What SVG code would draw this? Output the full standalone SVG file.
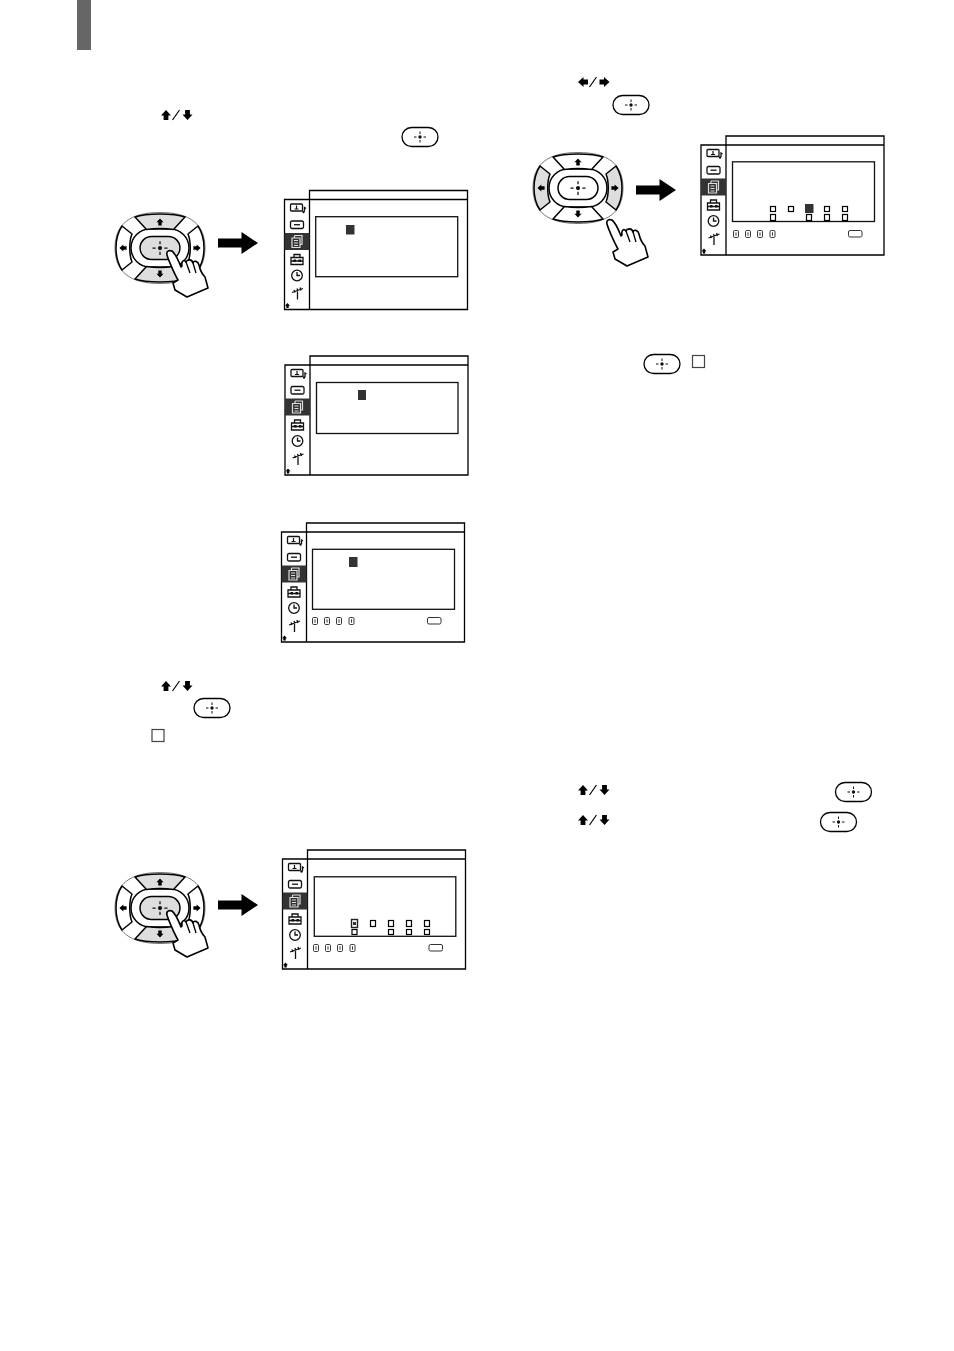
<svg xmlns="http://www.w3.org/2000/svg" width="954" height="1351" viewBox="0 0 954 1351">
<style>
.ln{fill:none;stroke:#000;stroke-width:1.3}
.box{fill:none;stroke:#111;stroke-width:1.3}
.ic{fill:none;stroke:#111;stroke-width:1.3}
.icw{fill:none;stroke:#ddd;stroke-width:1.2}
.k{fill:#fff;stroke:#222;stroke-width:.9}
.sq{fill:#fff;stroke:#000;stroke-width:1.2}
.blk{fill:#000}
.dark{fill:#333}
.gseg{fill:#dedede;stroke:#000;stroke-width:1.5;stroke-linejoin:round}
.wseg{fill:#fff;stroke:#000;stroke-width:1.5;stroke-linejoin:round}
.hand{fill:#fff;stroke:#000;stroke-width:1.6;stroke-linejoin:round}
</style>
<defs>
<g id="cross"><path d="M-6,0H-3.500M3.500,0H6M0,-5.500V-3M0,3V5.500" stroke="#111" stroke-width="1" fill="none"/><circle r="1.700" fill="#111"/></g>
<g id="btn"><rect x="-18" y="-9.500" width="36" height="19" rx="9.500" fill="#fff" stroke="#000" stroke-width="1.300"/><use href="#cross"/></g>
<path id="up" d="M0,-5L5,.5H2.400V5H-2.400V.5H-5Z"/>
<path id="right" d="M5,0L-.5,5V2.400H-5V-2.400H-.5V-5Z"/>
<path id="slash" d="M11.500,5L18.500,-5" stroke="#000" stroke-width="1.200" fill="none"/>
<g id="updown"><use href="#up" x="5"/><use href="#slash"/><use href="#up" transform="translate(26.500,0) scale(1,-1)"/></g>
<g id="leftright"><use href="#right" transform="translate(5,0) scale(-1,1)"/><use href="#slash"/><use href="#right" x="26.500"/></g>
<g id="bigarrow"><path d="M0,-4.500H23.500V-11L40,0L23.500,11V4.500H0Z" fill="#000"/></g>
<g id="handshape"><path class="hand" d="M12,3C9,2 6,3 7,7C8,11 14,25 18,32L13,35L15,42L27,49L48,40L45,29C42,26 40,22 39,17C38,13 34,12 33,15C32,11 27,11 26,14C24,11 21,13 22,18L21,19C19,14 16,6 12,3Z"/><path class="ln" d="M26,14L30,25M33,15L36,25"/></g>
<g id="padbase">
<path d="M-45,0C-45,-24 -30,-35.500 0,-35.500C30,-35.500 45,-24 45,0C45,24 30,35.500 0,35.500C-30,35.500 -45,24 -45,0Z" fill="#fff" stroke="#777" stroke-width="1"/>
<rect class="wseg" x="-29" y="-19" width="58" height="38" rx="19"/>
</g>
<g id="seg-top"><path d="M-25,-31C-14,-35 14,-35 25,-31L13.500,-18.500C6,-19.500 -6,-19.500 -13.500,-18.500Z"/></g>
<g id="seg-left"><path d="M-38,-22C-46,-10 -46,10 -38,22L-28,14C-31,7 -31,-7 -28,-14Z"/></g>
<g id="seg-glyphs"><use href="#up" transform="translate(0,-26) scale(.72)"/><use href="#up" transform="translate(0,26) scale(.72,-.72)"/><use href="#right" transform="translate(37,0) scale(.72)"/><use href="#right" transform="translate(-37,0) scale(-.72,.72)"/></g>
<g id="frame">
<rect x="0" y="9" width="183" height="110" fill="#fff"/>
<path class="ln" d="M25,9V0H183V119H0V9H183M25,9V119"/>
<rect x="0" y="42.500" width="25" height="17" class="dark"/>
<g transform="translate(12.500,17)"><rect class="ic" x="-6.500" y="-3.500" width="12" height="7" rx="1"/><path d="M-.5,-2V1.500M-2.500,1.500H1.500" stroke="#111" stroke-width="1.200" fill="none"/><path d="M7.500,4V0L9,1" class="ic"/><circle cx="6.500" cy="4.500" r="1.200" fill="#111"/></g>
<g transform="translate(12.500,34)"><rect class="ic" x="-6.500" y="-3.500" width="13" height="7.500" rx="1.500"/><path class="ic" d="M-3,.2H3"/></g>
<g transform="translate(12.500,51)"><path class="icw" d="M-2.500,-6H5V3H3M-2.500,-6V-3.500M-5,-3.500H3V6H-5ZM-3,-1H1M-3,1.500H1M-3,4H1"/></g>
<g transform="translate(12.500,69)"><path class="ic" d="M-6,-2H6V5H-6ZM-3,-2V-5H3V-2M-6,1.500H6"/><rect x="-3.500" y="0" width="2.500" height="2.500" fill="#111"/><rect x="1.500" y="0" width="2.500" height="2.500" fill="#111"/></g>
<g transform="translate(12.500,85)"><circle class="ic" r="5.300"/><path class="ic" d="M0,-3.500V0H3"/></g>
<g transform="translate(12.500,102)"><path class="ic" d="M.5,-1V7M-5,0L6,-4M-3,-2.500L-2,0M0,-4L1,-1.500M3,-5L4,-2"/></g>
<use href="#up" transform="translate(3,115) scale(.5)"/>
</g>
<g id="key"><rect class="k" x="-2.500" y="-3.500" width="5" height="7" rx="1.200"/><path d="M0,-1.700V1.700" stroke="#222" stroke-width=".9"/></g>
<g id="keyrow"><use href="#key"/><use href="#key" x="12"/><use href="#key" x="24"/><use href="#key" x="36.500"/></g>
<rect id="enterkey" x="0" y="0" width="13.500" height="6.500" rx="1.500" fill="#fff" stroke="#333" stroke-width="1"/>
</defs>
<g id="tab"><rect x="77" y="0" width="14" height="50" fill="#666"/></g>

<g id="symbols-left">
<use href="#updown" x="161" y="115"/>
<use href="#btn" x="420" y="137"/>
<use href="#updown" x="161" y="686"/>
<use href="#btn" x="212" y="708"/>
<rect x="152" y="729.500" width="12" height="12" fill="#fff" stroke="#444" stroke-width="1.200"/>
</g>
<g id="symbols-right">
<use href="#leftright" x="578" y="82"/>
<use href="#btn" x="631" y="105"/>
<use href="#btn" x="662" y="364"/>
<rect x="692.500" y="355.500" width="12" height="12" fill="#fff" stroke="#444" stroke-width="1.200"/>
<use href="#updown" x="578" y="790"/>
<use href="#btn" x="853.500" y="792"/>
<use href="#updown" x="578" y="820"/>
<use href="#btn" x="838.500" y="822"/>
</g>

<g id="pad1" transform="translate(160,248)">
<use href="#padbase"/>
<use href="#seg-top" class="gseg"/><use href="#seg-top" class="gseg" transform="scale(1,-1)"/>
<use href="#seg-left" class="wseg"/><use href="#seg-left" class="wseg" transform="scale(-1,1)"/>
<rect x="-20" y="-11.500" width="40" height="23" rx="11.500" class="gseg"/><use href="#cross" transform="scale(1.250)"/>
<use href="#seg-glyphs"/>
<use href="#handshape"/>
</g>
<g id="pad2" transform="translate(578,188)">
<use href="#padbase"/>
<use href="#seg-top" class="wseg"/><use href="#seg-top" class="wseg" transform="scale(1,-1)"/>
<use href="#seg-left" class="gseg"/><use href="#seg-left" class="gseg" transform="scale(-1,1)"/>
<rect x="-20" y="-11.500" width="40" height="23" rx="11.500" class="wseg"/><use href="#cross" transform="scale(1.250)"/>
<use href="#seg-glyphs"/>
<use href="#handshape" x="22" y="29"/>
</g>
<g id="pad3" transform="translate(160,908)">
<use href="#padbase"/>
<use href="#seg-top" class="gseg"/><use href="#seg-top" class="gseg" transform="scale(1,-1)"/>
<use href="#seg-left" class="wseg"/><use href="#seg-left" class="wseg" transform="scale(-1,1)"/>
<rect x="-20" y="-11.500" width="40" height="23" rx="11.500" class="gseg"/><use href="#cross" transform="scale(1.250)"/>
<use href="#seg-glyphs"/>
<use href="#handshape"/>
</g>

<g id="connectors">
<use href="#bigarrow" x="218" y="243"/>
<use href="#bigarrow" x="636" y="190"/>
<use href="#bigarrow" x="218" y="905"/>
</g>

<g id="screen1"><use href="#frame" x="284.500" y="190.500"/>
<rect class="box" x="315.700" y="216.700" width="142" height="60"/><rect x="346" y="225" width="8.500" height="9.500" class="dark"/></g>
<g id="screen2"><use href="#frame" x="285" y="356"/>
<rect class="box" x="316.500" y="382.500" width="141.500" height="51"/><rect x="358" y="390" width="8" height="10" class="dark"/></g>
<g id="screen3"><use href="#frame" x="281.500" y="523"/>
<rect class="box" x="312.500" y="549.300" width="142" height="60"/><rect x="349" y="557" width="8.500" height="10" class="dark"/>
<use href="#keyrow" x="315" y="621"/><use href="#enterkey" x="427.500" y="617.500"/></g>
<g id="screen4"><use href="#frame" x="701" y="136"/>
<rect class="box" x="732.500" y="161.800" width="142" height="59.700"/>
<rect class="sq" x="770.500" y="206.500" width="5" height="5"/><rect class="sq" x="788.500" y="206.500" width="5" height="5"/><rect x="805" y="204" width="8.500" height="9" class="dark"/><rect class="sq" x="824.500" y="206.500" width="5" height="5"/><rect class="sq" x="842.500" y="206.500" width="5" height="5"/>
<rect class="sq" x="770.500" y="214.500" width="5" height="6"/><rect class="sq" x="806.500" y="214.500" width="5" height="6"/><rect class="sq" x="824.500" y="214.500" width="5" height="6"/><rect class="sq" x="842.500" y="214.500" width="5" height="6"/>
<use href="#keyrow" x="736" y="234"/><use href="#enterkey" x="848.500" y="230.500"/></g>
<g id="screen5"><use href="#frame" x="282.500" y="850"/>
<rect class="box" x="314.300" y="876.800" width="141.500" height="59.500"/>
<rect x="351.500" y="919.500" width="6" height="8" fill="#fff" stroke="#222" stroke-width="1.400"/><rect x="353" y="922" width="3" height="3" class="dark"/>
<rect class="sq" x="370.500" y="920.500" width="5" height="6"/><rect class="sq" x="388.500" y="920.500" width="5" height="6"/><rect class="sq" x="406.500" y="920.500" width="5" height="6"/><rect class="sq" x="424.500" y="920.500" width="5" height="6"/>
<rect class="sq" x="352" y="929.500" width="5" height="5"/><rect class="sq" x="388.500" y="929.500" width="5" height="5"/><rect class="sq" x="406.500" y="929.500" width="5" height="5"/><rect class="sq" x="424.500" y="929.500" width="5" height="5"/>
<use href="#keyrow" x="316" y="948"/><use href="#enterkey" x="429" y="944.500"/></g>
</svg>
